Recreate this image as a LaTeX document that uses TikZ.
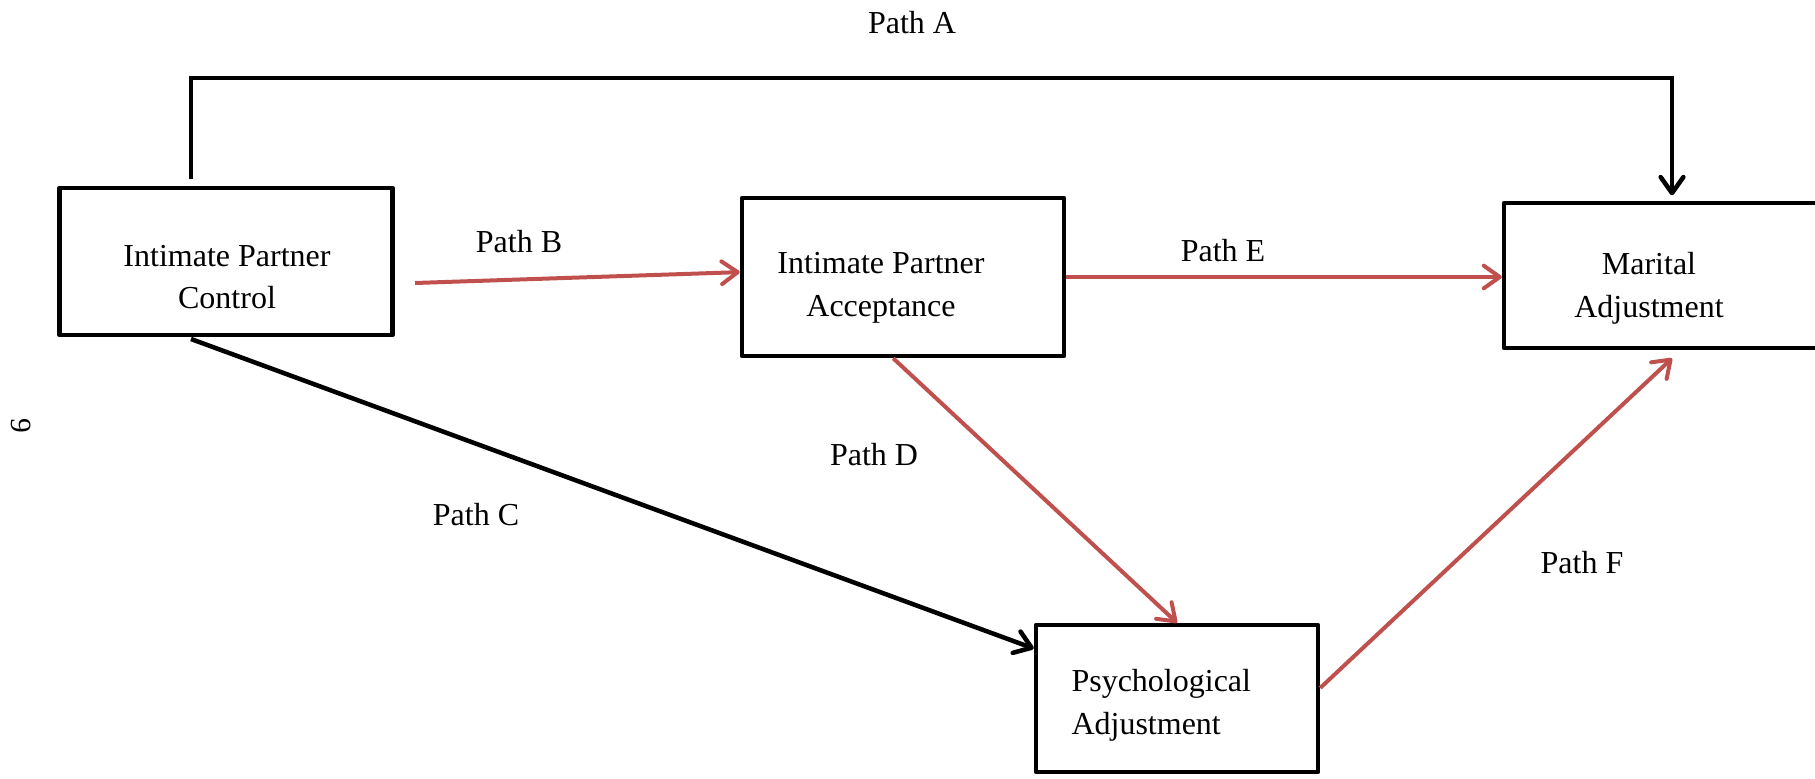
\documentclass[tikz,border=0pt]{standalone}
\usepackage{fontspec}
\setmainfont{Liberation Serif}
\usetikzlibrary{arrows.meta,calc}
\definecolor{pathred}{RGB}{192,80,77}
\begin{document}
\begin{tikzpicture}[x=0.375pt,y=-0.375pt,
	box/.style={draw,line width=1.7pt,line join=round,inner sep=0pt},
	txt/.style={align=center,inner sep=0pt,font=\fontsize{12}{16}\selectfont},
	blk/.style={line width=1.7pt,-{Straight Barb[length=6pt,width=8.5pt,round]}},
	rd/.style={pathred,line width=1.5pt,-{Straight Barb[length=6pt,width=8.5pt,round]}}]
	\useasboundingbox (0,0) rectangle (1815,778);
	\node[box,minimum width=124.9pt,minimum height=55.1pt] (ipc) at (226,261.5) {};
	\node[box,minimum width=120.75pt,minimum height=59.25pt] (ipa) at (903,277) {};
	\node[box,minimum width=126pt,minimum height=54.4pt] (mar) at (1672,275.5) {};
	\node[box,minimum width=105.75pt,minimum height=55.1pt] (pad) at (1177,698.5) {};
	\node[txt] (ipctext) at (227,277) {Intimate Partner\\Control};
	\node[txt] (ipatext) at (881,288) {Intimate Partner\\Acceptance};
	\node[txt] (martext) at (1649,288) {Marital\\Adjustment};
	\node[txt,align=left,anchor=west] (padtext) at (1071,705) {Psychological\\Adjustment};
	\coordinate (astart) at (191,179);
	\coordinate (cstart) at (191,339);
	\coordinate (bstart) at (415,283);
	\draw[blk] (astart) -- ++(0,-101) -| ([yshift=2pt]mar.north);
	\node[txt] (pa) at (912,23) {Path A};
	\draw[rd] (bstart) -- ($(ipa.north west)!0.47!(ipa.south west)$);
	\node[txt] (pb) at (519,242) {Path B};
	\draw[blk] (cstart) -- ($(pad.north west)!0.17!(pad.south west)$);
	\node[txt] (pc) at (476,515) {Path C};
	\draw[rd] ($(ipa.south west)!0.47!(ipa.south east)$) -- (pad.north);
	\node[txt] (pd) at (874,455) {Path D};
	\draw[rd] (ipa.east) -- (ipa.east -| mar.west);
	\node[txt] (pe) at (1223,251) {Path E};
	\draw[rd] ($(pad.north east)!0.43!(pad.south east)$) -- ([yshift=-3pt]mar.south);
	\node[txt] (pf) at (1582,563) {Path F};
	\node[rotate=-90,font=\fontsize{11}{13}\selectfont] (pagenum) at (21,426) {9};
\end{tikzpicture}
\end{document}
